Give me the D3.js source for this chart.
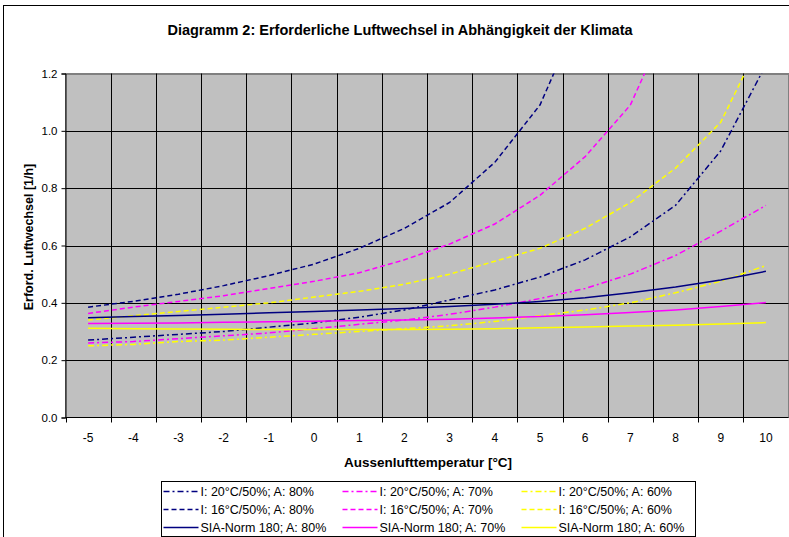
<!DOCTYPE html>
<html>
<head>
<meta charset="utf-8">
<script src="https://cdn.jsdelivr.net/npm/d3@7"></script>
<style>
  body { margin: 0; background: #fff; }
  svg { display: block; font-family: Arial, "Liberation Sans", sans-serif; }
</style>
</head>
<body>
<svg id="chart" width="789" height="537"></svg>
<script>
// Aussenlufttemperatur [°C]
const categories = [-5, -4, -3, -2, -1, 0, 1, 2, 3, 4, 5, 6, 7, 8, 9, 10];
const yTicks = [0, 0.2, 0.4, 0.6, 0.8, 1.0, 1.2];

// erforderliche Luftwechsel [1/h] je Klima
const i20a80 = [0.27, 0.28, 0.29, 0.30, 0.315, 0.33, 0.35, 0.375, 0.41, 0.445, 0.49, 0.55, 0.63, 0.74, 0.93, 1.23];
const i20a70 = [0.26, 0.265, 0.275, 0.285, 0.295, 0.31, 0.325, 0.34, 0.36, 0.385, 0.415, 0.45, 0.50, 0.565, 0.65, 0.74];
const i20a60 = [0.25, 0.255, 0.265, 0.27, 0.28, 0.29, 0.30, 0.31, 0.32, 0.335, 0.355, 0.375, 0.40, 0.435, 0.475, 0.53];
const i16a80 = [0.385, 0.405, 0.43, 0.46, 0.495, 0.535, 0.59, 0.66, 0.75, 0.89, 1.09, 1.45, null, null, null, null];
const i16a70 = [0.363, 0.385, 0.405, 0.425, 0.45, 0.475, 0.505, 0.55, 0.605, 0.675, 0.775, 0.91, 1.09, 1.44, null, null];
const i16a60 = [0.34, 0.355, 0.37, 0.385, 0.40, 0.42, 0.44, 0.465, 0.50, 0.545, 0.59, 0.66, 0.75, 0.87, 1.03, 1.35];
const sia80 = [0.348, 0.352, 0.356, 0.36, 0.365, 0.37, 0.375, 0.38, 0.387, 0.395, 0.405, 0.418, 0.435, 0.455, 0.48, 0.51];
const sia70 = [0.328, 0.329, 0.33, 0.332, 0.334, 0.336, 0.338, 0.34, 0.343, 0.347, 0.352, 0.358, 0.366, 0.375, 0.387, 0.401];
const sia60 = [0.311, 0.31, 0.309, 0.308, 0.307, 0.307, 0.307, 0.307, 0.308, 0.31, 0.313, 0.316, 0.319, 0.322, 0.326, 0.331];

const seriesNames = [
  'I: 20°C/50%; A: 80%', 'I: 20°C/50%; A: 70%', 'I: 20°C/50%; A: 60%',
  'I: 16°C/50%; A: 80%', 'I: 16°C/50%; A: 70%', 'I: 16°C/50%; A: 60%',
  'SIA-Norm 180; A: 80%', 'SIA-Norm 180; A: 70%', 'SIA-Norm 180; A: 60%'
];
const seriesValues = [i20a80, i20a70, i20a60, i16a80, i16a70, i16a60, sia80, sia70, sia60];

const colors = ['#000080', '#FF00FF', '#FFFF00'];
const dashes = ['6,3,2,3', '5,3', 'none'];

const svg = d3.select('#chart');
const plot = { left: 65.5, right: 788.5, top: 73.5, bottom: 417.5 };

const x = d3.scaleBand().domain(categories).range([plot.left, plot.right]).padding(0);
const y = d3.scaleLinear().domain([0, 1.2]).range([plot.bottom, plot.top]);

// Rahmen des Diagramms
svg.append('rect')
  .attr('x', 3.5).attr('y', 5.5)
  .attr('width', 900).attr('height', 700)
  .attr('fill', 'none').attr('stroke', '#000').attr('stroke-width', 1);

// Titel
svg.append('text')
  .attr('x', 400).attr('y', 35)
  .attr('text-anchor', 'middle')
  .attr('font-size', 14.5).attr('font-weight', 'bold')
  .text('Diagramm 2: Erforderliche Luftwechsel in Abhängigkeit der Klimata');

// Zeichenfläche
svg.append('rect')
  .attr('x', plot.left).attr('y', plot.top)
  .attr('width', plot.right - plot.left).attr('height', plot.bottom - plot.top)
  .attr('fill', '#C0C0C0').attr('stroke', '#808080');

// Gitternetz horizontal
svg.append('g').selectAll('line')
  .data(yTicks.filter(d => d > 0))
  .join('line')
  .attr('x1', plot.left).attr('x2', plot.right)
  .attr('y1', d => Math.round(y(d)) + 0.5).attr('y2', d => Math.round(y(d)) + 0.5)
  .attr('stroke', d => d === 1.2 ? '#808080' : '#000').attr('stroke-width', 1);

// Gitternetz vertikal (an den Kategoriegrenzen)
const edges = categories.slice(1).map(c => x(c));
svg.append('g').selectAll('line')
  .data(edges)
  .join('line')
  .attr('x1', d => Math.round(d) + 0.5).attr('x2', d => Math.round(d) + 0.5)
  .attr('y1', plot.top).attr('y2', plot.bottom)
  .attr('stroke', '#000');

// y-Achse
const yAxis = svg.append('g')
  .attr('transform', `translate(${plot.left},0)`)
  .call(d3.axisLeft(y).tickValues(yTicks).tickFormat(d3.format('.1f')).tickSize(4).tickPadding(4));
yAxis.select('.domain').attr('stroke', '#000');
yAxis.selectAll('.tick line').attr('stroke', '#000');
yAxis.selectAll('text').attr('font-size', 11.5).attr('font-family', 'Arial, "Liberation Sans", sans-serif').attr('fill', '#000');

// x-Achse: Linie, Teilstriche an Grenzen, Beschriftung mittig
svg.append('line')
  .attr('x1', plot.left).attr('x2', plot.right)
  .attr('y1', plot.bottom).attr('y2', plot.bottom)
  .attr('stroke', '#000');
svg.append('g').selectAll('line')
  .data([x(categories[0])].concat(edges, [plot.right]))
  .join('line')
  .attr('x1', d => Math.round(d) + 0.5).attr('x2', d => Math.round(d) + 0.5)
  .attr('y1', plot.bottom).attr('y2', plot.bottom + 5)
  .attr('stroke', '#000');
svg.append('g').selectAll('text')
  .data(categories)
  .join('text')
  .attr('x', d => x(d) + x.bandwidth() / 2)
  .attr('y', 442)
  .attr('text-anchor', 'middle')
  .attr('font-size', 12)
  .text(d => d);

// Achsentitel
svg.append('text')
  .attr('x', 428).attr('y', 467)
  .attr('text-anchor', 'middle')
  .attr('font-size', 13.5).attr('font-weight', 'bold')
  .text('Aussenlufttemperatur [°C]');
svg.append('text')
  .attr('transform', 'translate(33,237) rotate(-90)')
  .attr('text-anchor', 'middle')
  .attr('font-size', 12.5).attr('font-weight', 'bold')
  .text('Erford. Luftwechsel [1/h]');

// Datenreihen
svg.append('clipPath').attr('id', 'plotclip')
  .append('rect')
  .attr('x', plot.left).attr('y', plot.top)
  .attr('width', plot.right - plot.left).attr('height', plot.bottom - plot.top);

const line = d3.line()
  .defined(d => d.v != null)
  .x(d => x(d.c) + x.bandwidth() / 2)
  .y(d => y(d.v));

svg.append('g')
  .attr('clip-path', 'url(#plotclip)')
  .selectAll('path')
  .data(seriesValues.map((vals, i) => ({ i, pts: categories.map((c, k) => ({ c, v: vals[k] })) })))
  .join('path')
  .attr('d', d => line(d.pts))
  .attr('fill', 'none')
  .attr('stroke', d => colors[d.i % 3])
  .attr('stroke-width', 1.5)
  .attr('stroke-dasharray', d => dashes[Math.floor(d.i / 3)]);

// Legende
const legend = { x: 161.5, y: 481.5, w: 534, h: 55, colW: 179, rowH: 18 };
svg.append('rect')
  .attr('x', legend.x).attr('y', legend.y)
  .attr('width', legend.w).attr('height', legend.h)
  .attr('fill', '#fff').attr('stroke', '#000');

seriesNames.forEach((name, i) => {
  const gx = legend.x + 2 + (i % 3) * legend.colW;
  const gy = legend.y + 10 + Math.floor(i / 3) * legend.rowH;
  const item = svg.append('g').attr('transform', `translate(${gx},${gy})`);
  item.append('line')
    .attr('x1', 0).attr('x2', 35)
    .attr('y1', 0).attr('y2', 0)
    .attr('stroke', colors[i % 3])
    .attr('stroke-width', 1.5)
    .attr('stroke-dasharray', dashes[Math.floor(i / 3)]);
  item.append('text')
    .attr('x', 37).attr('y', 4.5)
    .attr('font-size', 12.5)
    .text(name);
});
</script>
</body>
</html>
